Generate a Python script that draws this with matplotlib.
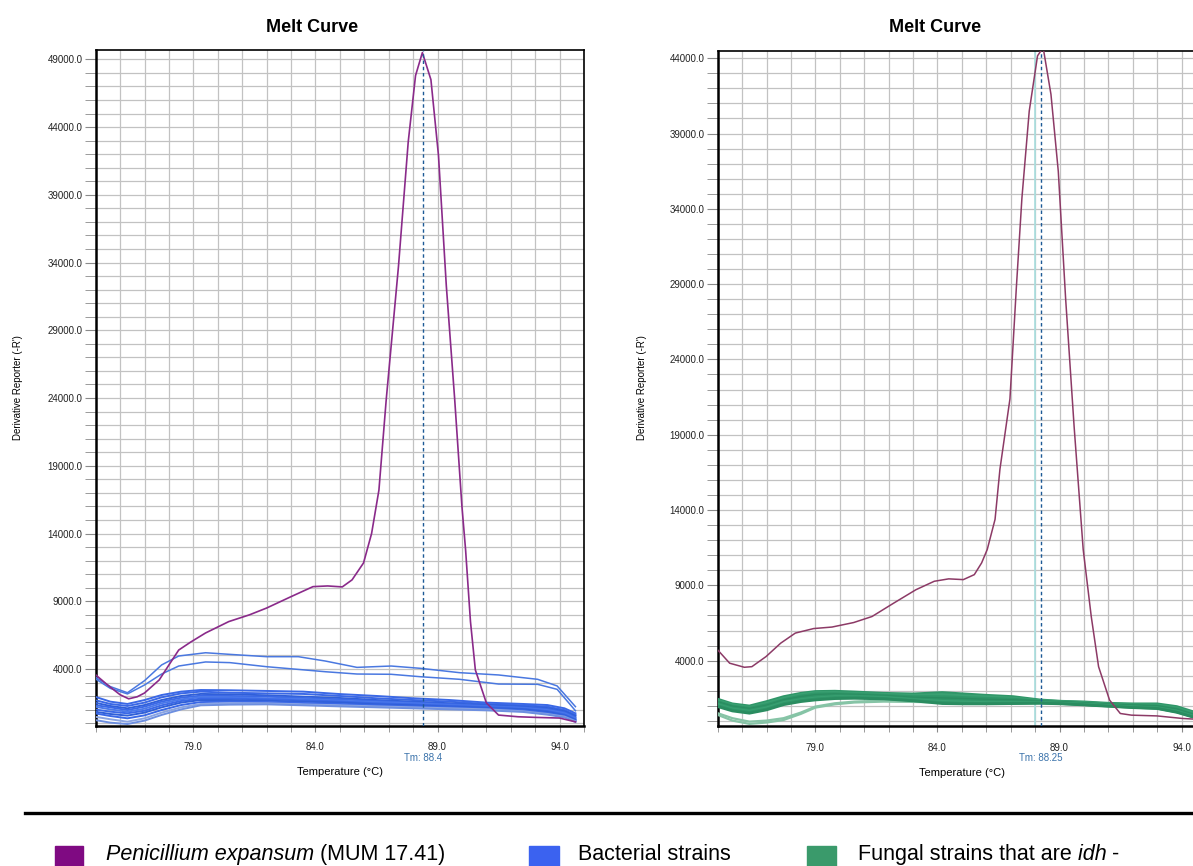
import matplotlib
matplotlib.use("Agg")
import matplotlib.pyplot as plt
from matplotlib.ticker import MultipleLocator, FixedLocator, FormatStrFormatter
from matplotlib.patches import Rectangle
from matplotlib.lines import Line2D

plt.rcParams['font.family'] = ['Liberation Sans', 'DejaVu Sans']

W, H = 1193, 866

# ---------------- left panel: P. expansum vs bacterial strains ----------------
tm_left = 88.4
pur_t_left = [74.96, 75.5, 76.0, 76.35, 76.7, 77.0, 77.6, 78.0, 78.4, 78.9, 79.5, 80.45, 81.3, 82.0, 83.0,
              83.9, 84.5, 85.1, 85.5, 85.97, 86.3, 86.6, 86.9, 87.4, 87.8, 88.1, 88.38, 88.73,
              89.04, 89.36, 89.7, 90.0, 90.15, 90.35, 90.55, 91.0, 91.5, 92.3, 93.0, 94.0, 94.65]
pur_v_left = [3630, 2800, 2100, 1800, 1950, 2230, 3190, 4300, 5400, 6000, 6660, 7500, 8000, 8500, 9340,
              10080, 10130, 10060, 10580, 11830, 14000, 17200, 23900, 33700, 42900, 47800, 49500, 47500,
              41900, 32300, 24000, 16000, 12800, 7500, 3930, 1500, 600, 475, 430, 380, 100]

up_t = [74.96, 75.6, 76.3, 77.0, 77.7, 78.4, 79.5, 80.5, 82.0, 83.3, 84.4, 85.7, 87.1,
        88.3, 89.9, 91.5, 93.1, 93.9, 94.65]
bact_up_a = [3430, 2700, 2250, 3140, 4300, 4960, 5200, 5080, 4910, 4910, 4590, 4120, 4220,
             4050, 3730, 3560, 3240, 2750, 1220]
bact_up_b = [3310, 2570, 2160, 2820, 3630, 4220, 4520, 4470, 4170, 3970, 3800, 3630, 3610,
             3430, 3240, 2890, 2870, 2500, 920]

bun_t = [74.96, 75.6, 76.3, 77.0, 77.7, 78.5, 79.3, 80.5, 82.0, 83.5, 85.0, 86.5, 88.0,
         89.5, 91.0, 92.5, 93.5, 94.2, 94.65]
bact_1 = [1960, 1590, 1420, 1710, 2080, 2330, 2450, 2430, 2380, 2330, 2150, 2010, 1840, 1710, 1520, 1420, 1340, 1100, 730]
bact_2 = [1710, 1420, 1270, 1520, 1910, 2200, 2330, 2250, 2200, 2160, 2010, 1840, 1710, 1590, 1420, 1320, 1220, 970, 610]
bact_3 = [1520, 1270, 1100, 1340, 1710, 2010, 2160, 2130, 2060, 1960, 1860, 1710, 1590, 1470, 1340, 1220, 1120, 880, 530]
bact_4 = [1340, 1170, 970, 1220, 1590, 1880, 2030, 2010, 1960, 1860, 1760, 1640, 1520, 1420, 1290, 1170, 1050, 800, 430]
bact_5 = [1220, 1020, 850, 1070, 1470, 1760, 1930, 1910, 1840, 1790, 1660, 1560, 1470, 1340, 1240, 1120, 970, 730, 360]
bact_6 = [1020, 850, 730, 920, 1320, 1640, 1810, 1810, 1760, 1690, 1590, 1470, 1390, 1290, 1200, 1070, 900, 650, 290]
bact_7 = [850, 680, 560, 780, 1170, 1520, 1710, 1710, 1660, 1590, 1520, 1390, 1320, 1220, 1120, 1020, 830, 580, 240]
bact_8 = [730, 530, 360, 580, 970, 1340, 1560, 1590, 1560, 1490, 1420, 1320, 1240, 1170, 1070, 950, 750, 530, 190]
bact_9 = [480, 290, 110, 360, 780, 1170, 1420, 1470, 1470, 1390, 1320, 1240, 1170, 1100, 1020, 880, 680, 480, 140]
bact_10 = [240, 40, -60, 190, 610, 1020, 1320, 1370, 1390, 1320, 1240, 1170, 1100, 1020, 950, 830, 630, 430, 90]

# ---------------- right panel: P. expansum vs idh- fungi ----------------
tm_right = 88.25
pur_t_right = [75.0, 75.49, 76.09, 76.4, 76.98, 77.58, 78.18, 78.93, 79.68, 80.57, 81.32, 82.22,
               83.12, 83.87, 84.46, 85.06, 85.51, 85.81, 86.04, 86.36, 86.56, 86.97, 87.23, 87.46,
               87.76, 88.1, 88.33, 88.65, 88.95, 89.25, 89.6, 89.97, 90.3, 90.6, 91.05, 91.49,
               91.95, 92.99, 94.04, 94.7]
pur_v_right = [4710, 3830, 3560, 3600, 4270, 5160, 5830, 6130, 6230, 6530, 6930, 7830,
               8710, 9270, 9430, 9380, 9710, 10490, 11380, 13380, 16710, 21380, 28710, 34710,
               40490, 44160, 44710, 41600, 36490, 28050, 19500, 11380, 6930, 3600, 1380, 490,
               380, 330, 160, 100]

fun_t = [75.0, 75.6, 76.3, 77.0, 77.7, 78.4, 79.0, 79.8, 80.6, 81.8, 83.0, 84.2,
         85.1, 86.0, 87.1, 88.2, 89.1, 90.0, 91.0, 92.0, 93.0, 93.8, 94.45, 94.75]
fung_1 = [1440, 1130, 990, 1280, 1610, 1830, 1950, 1970, 1920, 1830, 1790, 1880, 1790, 1700, 1610, 1390, 1300, 1260, 1170, 1130, 1130, 950, 620, 460]
fung_2 = [1350, 1060, 900, 1170, 1500, 1750, 1880, 1880, 1830, 1770, 1700, 1750, 1660, 1610, 1520, 1350, 1280, 1220, 1130, 1080, 1060, 860, 530, 370]
fung_3 = [1280, 990, 840, 1080, 1410, 1660, 1790, 1810, 1770, 1700, 1610, 1610, 1550, 1500, 1440, 1300, 1240, 1170, 1080, 1040, 990, 790, 460, 310]
fung_4 = [1220, 930, 770, 990, 1350, 1570, 1700, 1750, 1700, 1640, 1520, 1480, 1440, 1390, 1350, 1260, 1220, 1150, 1060, 990, 950, 730, 400, 240]
fung_5 = [1150, 860, 710, 930, 1280, 1480, 1610, 1680, 1660, 1590, 1460, 1390, 1350, 1300, 1280, 1240, 1190, 1130, 1040, 950, 900, 680, 350, 200]
fung_6 = [1080, 790, 640, 860, 1220, 1410, 1520, 1610, 1610, 1550, 1410, 1300, 1260, 1220, 1220, 1220, 1170, 1100, 1020, 930, 860, 640, 310, 150]
fung_7 = [1020, 730, 580, 790, 1150, 1350, 1460, 1550, 1570, 1500, 1370, 1220, 1170, 1150, 1170, 1190, 1150, 1080, 990, 900, 840, 600, 290, 130]
fung_8 = [950, 660, 510, 730, 1080, 1280, 1390, 1480, 1500, 1460, 1330, 1150, 1130, 1130, 1150, 1170, 1130, 1060, 970, 880, 820, 570, 260, 110]
fung_low1 = [510, 180, -50, 20, 180, 550, 950, 1170, 1280, 1350, 1350, 1280, 1220, 1170, 1220, 1260, 1170, 1100, 1020, 950, 900, 730, 420, 290]
fung_low2 = [400, 20, -200, -110, 60, 460, 880, 1100, 1220, 1280, 1260, 1220, 1170, 1130, 1170, 1240, 1150, 1080, 1000, 930, 880, 680, 370, 220]

legend_labels = [("Penicillium expansum", "italic"), (" (MUM 17.41)", "normal")]
legend_labels2 = [("Bacterial strains", "normal")]
legend_labels3 = [("Fungal strains that are", "normal"), (" idh", "italic"), (" -", "normal")]

purple = "#8a2a8a"
purple_r = "#8c3a66"
blue = "#3a68e6"
blue_light = "#8aa4e2"
green = "#2f9668"
green_light = "#86c4a6"

fig = plt.figure(figsize=(W / 100, H / 100), dpi=100)


def style_axes(ax, ylim, yticks, tm, tm_text, title_x):
    ax.set_xlim(75, 95)
    ax.set_ylim(*ylim)
    ax.xaxis.set_major_locator(FixedLocator([79, 84, 89, 94]))
    ax.xaxis.set_minor_locator(MultipleLocator(1))
    ax.yaxis.set_major_locator(FixedLocator(yticks))
    ax.yaxis.set_minor_locator(MultipleLocator(1000))
    ax.xaxis.set_major_formatter(FormatStrFormatter('%.1f'))
    ax.yaxis.set_major_formatter(FormatStrFormatter('%.1f'))
    ax.grid(True, which='both', color='#c2c2c2', lw=0.9)
    ax.set_axisbelow(True)
    ax.tick_params(axis='y', which='both', length=8, color='#8a8a8a', labelsize=7, pad=1.5, labelcolor='#222222')
    ax.tick_params(axis='x', which='both', length=4, color='#8a8a8a', labelsize=7, pad=8, labelcolor='#222222')
    for s in ax.spines.values():
        s.set_color('black')
        s.set_linewidth(1.2)
    ax.spines['left'].set_linewidth(1.8)
    ax.spines['bottom'].set_linewidth(1.8)
    ax.axvline(tm, color='#1d5a96', lw=1.0, ls=(0, (2.5, 2)), zorder=5)
    ax.text(tm, -0.048, tm_text, transform=ax.get_xaxis_transform(), ha='center', va='center',
            fontsize=7, color='#3a72aa')
    ax.set_xlabel("Temperature (\u00b0C)", fontsize=8, labelpad=11)
    fig.text(title_x / W, 1 - 27 / H, "Melt Curve", ha='center', va='center',
             fontsize=13, fontweight='bold')


# left panel
axL = fig.add_axes([95.7 / W, 1 - 725.5 / H, 488.3 / W, 675.5 / H])
style_axes(axL, (-170, 49690), list(range(4000, 49001, 5000)), tm_left, "Tm: 88.4", 312)
bundle = [bact_1, bact_2, bact_3, bact_4, bact_5, bact_6, bact_7, bact_8, bact_9, bact_10]
shades = [blue, blue, "#2f5fd8", blue, "#4a78ea", blue, "#2f5fd8", blue, blue_light, "#6d8fe0"]
for vals, c in zip(bundle, shades):
    axL.plot(bun_t, vals, color=c, lw=1.4, zorder=3)
axL.plot(up_t, bact_up_a, color="#4a78e0", lw=1.1, zorder=3)
axL.plot(up_t, bact_up_b, color="#4a78e0", lw=1.1, zorder=3)
axL.plot(pur_t_left, pur_v_left, color=purple, lw=1.2, zorder=4)
fig.text(18 / W, 1 - 388 / H, "Derivative Reporter (-R')", rotation=90, ha='center', va='center', fontsize=7)

# right panel
axR = fig.add_axes([717.7 / W, 1 - 726 / H, 488.3 / W, 675.3 / H])
style_axes(axR, (-340, 44500), list(range(4000, 44001, 5000)), tm_right, "Tm: 88.25", 935)
axR.axvline(88.0, color='#a8dede', lw=1.2, zorder=1.5)
for vals in [fung_low2, fung_low1]:
    axR.plot(fun_t, vals, color=green_light, lw=1.6, zorder=3)
fshades = [green, "#3aa072", green, "#2a8c60", green, "#3aa072", green, "#2a8c60"]
for vals, c in zip([fung_1, fung_2, fung_3, fung_4, fung_5, fung_6, fung_7, fung_8], fshades):
    axR.plot(fun_t, vals, color=c, lw=2.0, zorder=3)
axR.plot(pur_t_right, pur_v_right, color=purple_r, lw=1.1, zorder=4)
fig.text(642 / W, 1 - 388 / H, "Derivative Reporter (-R')", rotation=90, ha='center', va='center', fontsize=7)

# separator and legend row
fig.add_artist(Line2D([25 / W, 1], [1 - 812.7 / H] * 2, color='black', lw=2.4, transform=fig.transFigure))

renderer = fig.canvas.get_renderer()


def put_runs(x_px, runs):
    x = x_px / W
    for s, st in runs:
        t = fig.text(x, 1 - 860 / H, s, style=st, ha='left', va='baseline', fontsize=15.5)
        bb = t.get_window_extent(renderer)
        x += bb.width / fig.bbox.width


for x0, x1, col in [(55, 83, "#7f0a82"), (529, 559, "#3b62f0"), (807, 836, "#3a9a6b")]:
    fig.add_artist(Rectangle((x0 / W, -0.02), (x1 - x0) / W, (866 - 846) / H + 0.02,
                             color=col, transform=fig.transFigure))
put_runs(106, legend_labels)
put_runs(578, legend_labels2)
put_runs(858, legend_labels3)

fig.savefig("out.png", dpi=100)
